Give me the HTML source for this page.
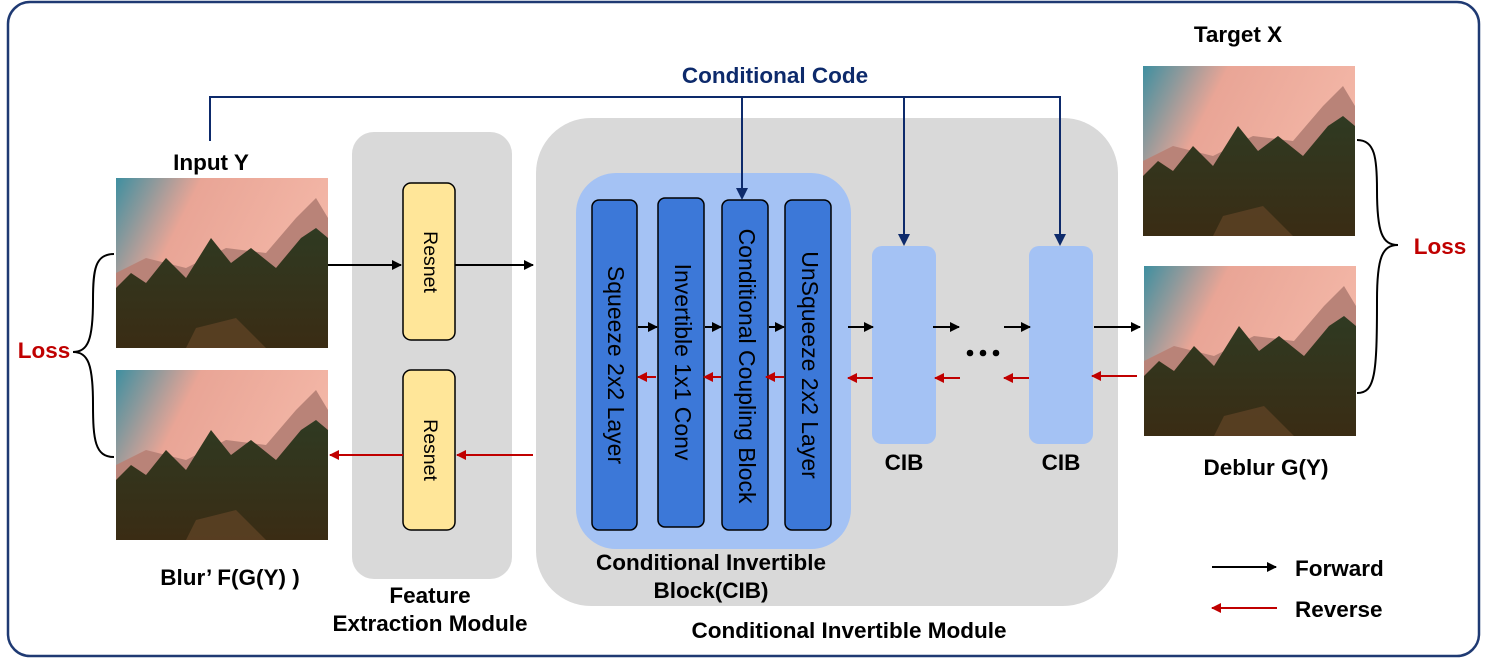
<!DOCTYPE html>
<html><head><meta charset="utf-8"><style>
html,body{margin:0;padding:0;background:#fff;}
svg{display:block;font-family:"Liberation Sans",Arial,sans-serif;}
</style></head><body>
<svg width="1492" height="660" viewBox="0 0 1492 660" xmlns="http://www.w3.org/2000/svg">
<defs>
<marker id="ab" markerWidth="10" markerHeight="10" refX="9" refY="5" orient="auto" markerUnits="userSpaceOnUse"><path d="M0,0 L10,5 L0,10 z" fill="#000"/></marker>
<marker id="ar" markerWidth="10" markerHeight="10" refX="9" refY="5" orient="auto" markerUnits="userSpaceOnUse"><path d="M0,0 L10,5 L0,10 z" fill="#c00000"/></marker>
<marker id="an" markerWidth="12" markerHeight="12" refX="10" refY="6" orient="auto" markerUnits="userSpaceOnUse"><path d="M0,0 L12,6 L0,12 z" fill="#0d2a6b"/></marker>
<linearGradient id="sky" x1="0" y1="0" x2="1" y2="0.4">
<stop offset="0" stop-color="#3f8fa0"/><stop offset="0.35" stop-color="#e9a596"/><stop offset="1" stop-color="#f4b8a8"/></linearGradient>
<linearGradient id="for" x1="0" y1="0" x2="0" y2="1">
<stop offset="0" stop-color="#2f3a22"/><stop offset="1" stop-color="#3a2c14"/></linearGradient>
<g id="img">
<rect width="212" height="170" fill="url(#sky)"/>
<path d="M0,95 L30,80 L70,90 L110,70 L150,75 L180,40 L200,20 L212,40 L212,170 L0,170z" fill="#b98378"/>
<path d="M0,110 L15,95 L30,105 L50,80 L70,100 L95,60 L115,85 L135,70 L160,90 L185,60 L200,50 L212,60 L212,170 L0,170z" fill="url(#for)"/>
<path d="M80,150 L120,140 L150,170 L70,170z" fill="#6b4a2a" opacity="0.6"/>
</g>
</defs>

<rect x="8" y="2" width="1471" height="654" rx="22" fill="#fff" stroke="#1f3a73" stroke-width="2.5"/>

<use href="#img" x="116" y="178"/>
<use href="#img" x="116" y="370"/>
<use href="#img" x="1143" y="66"/>
<use href="#img" x="1144" y="266"/>

<rect x="352" y="132" width="160" height="447" rx="22" fill="#d9d9d9"/>
<rect x="536" y="118" width="582" height="488" rx="55" fill="#d9d9d9"/>
<rect x="576" y="173" width="275" height="376" rx="40" fill="#a4c2f4"/>

<rect x="403" y="183" width="52" height="157" rx="8" fill="#ffe699" stroke="#000" stroke-width="1.5"/>
<rect x="403" y="370" width="52" height="160" rx="8" fill="#ffe699" stroke="#000" stroke-width="1.5"/>
<text transform="translate(429,262) rotate(90)" text-anchor="middle" dominant-baseline="middle" font-size="19.5">Resnet</text>
<text transform="translate(429,450) rotate(90)" text-anchor="middle" dominant-baseline="middle" font-size="19.5">Resnet</text>

<g fill="#3c78d8" stroke="#000" stroke-width="1.5">
<rect x="592" y="200" width="45" height="330" rx="7"/>
<rect x="658" y="198" width="46" height="329" rx="7"/>
<rect x="722" y="200" width="46" height="330" rx="7"/>
<rect x="785" y="200" width="46" height="330" rx="7"/>
</g>
<g font-size="23" text-anchor="middle" dominant-baseline="middle" fill="#000">
<text transform="translate(614,365) rotate(90)">Squeeze 2x2 Layer</text>
<text transform="translate(681,362) rotate(90)">Invertible 1x1 Conv</text>
<text transform="translate(745,366) rotate(90)">Conditional Coupling Block</text>
<text transform="translate(808,365) rotate(90)">UnSqueeze 2x2 Layer</text>
</g>

<rect x="872" y="246" width="64" height="198" rx="10" fill="#a4c2f4"/>
<rect x="1029" y="246" width="64" height="198" rx="10" fill="#a4c2f4"/>

<g stroke="#0d2a6b" stroke-width="2" fill="none">
<path d="M210,141 V97 H1060 V244" marker-end="url(#an)"/>
<path d="M742,97 V198" marker-end="url(#an)"/>
<path d="M904,97 V244" marker-end="url(#an)"/>
</g>

<g stroke="#000" stroke-width="2" marker-end="url(#ab)">
<line x1="328" y1="265" x2="401" y2="265"/>
<line x1="455" y1="265" x2="533" y2="265"/>
<line x1="638" y1="327" x2="657" y2="327"/>
<line x1="705" y1="327" x2="721" y2="327"/>
<line x1="769" y1="327" x2="784" y2="327"/>
<line x1="848" y1="327" x2="873" y2="327"/>
<line x1="933" y1="327" x2="959" y2="327"/>
<line x1="1004" y1="327" x2="1030" y2="327"/>
<line x1="1094" y1="327" x2="1140" y2="327"/>
<line x1="1212" y1="567" x2="1276" y2="567"/>
</g>
<g stroke="#c00000" stroke-width="2" marker-end="url(#ar)">
<line x1="533" y1="455" x2="457" y2="455"/>
<line x1="403" y1="455" x2="330" y2="455"/>
<line x1="656" y1="377" x2="638" y2="377"/>
<line x1="721" y1="377" x2="704" y2="377"/>
<line x1="784" y1="377" x2="766" y2="377"/>
<line x1="873" y1="378" x2="848" y2="378"/>
<line x1="960" y1="378" x2="935" y2="378"/>
<line x1="1029" y1="378" x2="1004" y2="378"/>
<line x1="1137" y1="376" x2="1092" y2="376"/>
<line x1="1277" y1="608" x2="1212" y2="608"/>
</g>
<g fill="#000"><circle cx="970" cy="353" r="3.3"/><circle cx="983" cy="353" r="3.3"/><circle cx="996" cy="353" r="3.3"/></g>

<g stroke="#000" stroke-width="2" fill="none">
<path d="M114,254 C95,254 93,270 93,300 C93,340 88,352 73,352 C88,352 93,364 93,404 C93,440 95,457 114,457"/>
<path d="M1357,140 C1375,140 1377,158 1377,190 C1377,232 1382,245 1398,245 C1382,245 1377,258 1377,300 C1377,375 1375,393 1357,393"/>
</g>

<g font-weight="bold" font-size="22.5" fill="#000">
<text x="211" y="170" text-anchor="middle">Input Y</text>
<text x="1238" y="42" text-anchor="middle">Target X</text>
<text x="1266" y="475" text-anchor="middle">Deblur G(Y)</text>
<text x="230" y="585" text-anchor="middle">Blur’ F(G(Y) )</text>
<text x="430" y="603" text-anchor="middle">Feature</text>
<text x="430" y="631" text-anchor="middle">Extraction Module</text>
<text x="711" y="570" text-anchor="middle">Conditional Invertible</text>
<text x="711" y="598" text-anchor="middle">Block(CIB)</text>
<text x="849" y="638" text-anchor="middle">Conditional Invertible Module</text>
<text x="904" y="470" text-anchor="middle">CIB</text>
<text x="1061" y="470" text-anchor="middle">CIB</text>
<text x="1295" y="576">Forward</text>
<text x="1295" y="617">Reverse</text>
<text x="775" y="83" text-anchor="middle" fill="#0d2a6b">Conditional Code</text>
<text x="44" y="358" text-anchor="middle" fill="#c00000">Loss</text>
<text x="1440" y="254" text-anchor="middle" fill="#c00000">Loss</text>
</g>
</svg>
</body></html>
